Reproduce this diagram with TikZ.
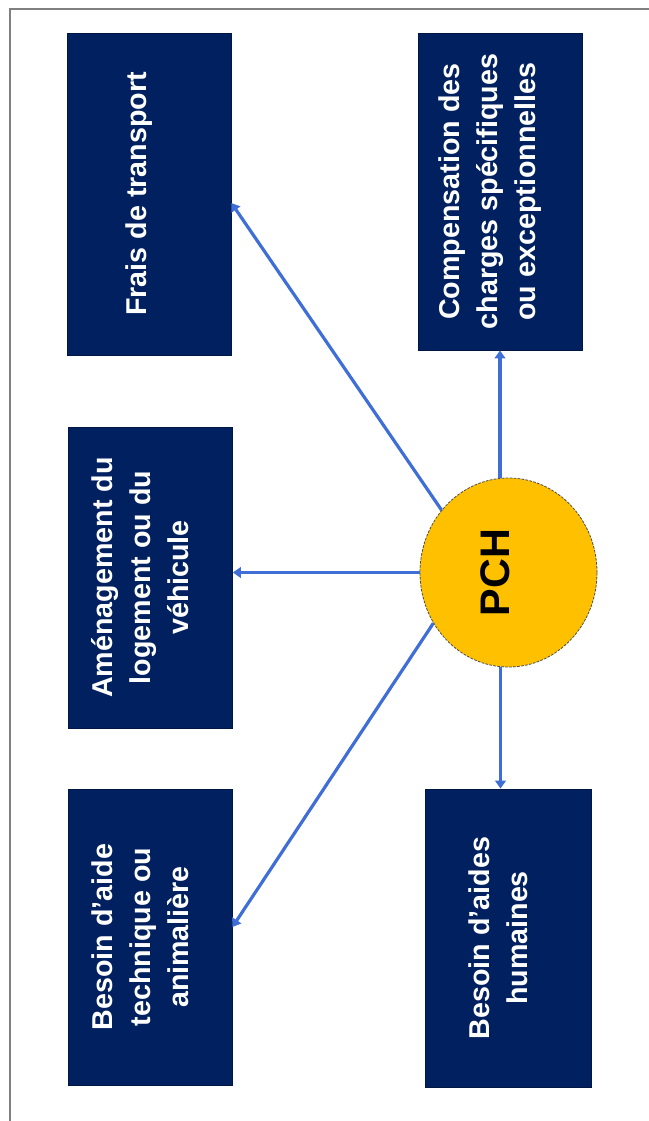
\documentclass[tikz,border=0pt]{standalone}
\usepackage{fontspec}
\setmainfont{Liberation Sans}
\usetikzlibrary{arrows.meta,shapes.geometric}
\definecolor{navy}{HTML}{002060}
\definecolor{linkblue}{HTML}{3F6FD6}
\definecolor{gold}{HTML}{FFC000}

\begin{document}
\begin{tikzpicture}[x=0.75pt, y=0.75pt,
  bluebox/.style={fill=navy, draw=navy!70!black, line width=0.6pt, minimum width=123pt, inner sep=0pt},
  boxtext/.style={xshift=-7.5pt, rotate=90, text=white, align=center,
    font=\fontsize{21.5}{28.5}\selectfont\bfseries},
  link/.style={draw=linkblue, line width=2.4pt, -{Triangle[width=8pt,length=6pt]}}]
  \useasboundingbox (0,0) rectangle (649,-1121);
  \draw[gray, line width=0.9pt] (10,-1121) -- (10,-9) -- (649,-9);
  \node[bluebox, minimum height=241.5pt,
    label={[boxtext]center:Frais de transport}] (frais) at (149,-194) {};
  \node[bluebox, minimum height=237.75pt,
    label={[boxtext]center:{Compensation des\\charges spécifiques\\ou exceptionnelles}}] (comp) at (500,-191.5) {};
  \node[bluebox, minimum height=225.75pt,
    label={[boxtext]center:{Aménagement du\\logement ou du\\véhicule}}] (amen) at (150.5,-577.5) {};
  \node[bluebox, minimum height=222pt,
    label={[boxtext]center:{Besoin d’aide\\technique ou\\animalière}}] (tech) at (150,-937) {};
  \node[bluebox, minimum width=125pt, minimum height=223.5pt,
    label={[boxtext]center:{Besoin d’aides\\humaines}}] (hum) at (508.5,-938) {};
  \node[ellipse, fill=gold, draw=black!70, line width=0.6pt, dash pattern=on 2pt off 1pt,
    minimum width=132.75pt, minimum height=141.75pt, inner sep=0pt,
    label={[xshift=-10pt, rotate=90, font=\fontsize{31}{31}\selectfont\bfseries]center:PCH}] (pch) at (508.5,-572.5) {};
  \draw[link] (pch.137) -- ([yshift=-6.75pt]frais.east);
  \draw[link] (pch.west) -- (pch.west -| amen.east);
  \draw[link] (pch.214) -- ([yshift=7.5pt]tech.east);
  \draw[link] (pch.north -| comp) -- (comp.south);
  \draw[link] ([xshift=-6pt]pch.south) -- ([xshift=-6pt]pch.south |- hum.north);
\end{tikzpicture}
\end{document}
